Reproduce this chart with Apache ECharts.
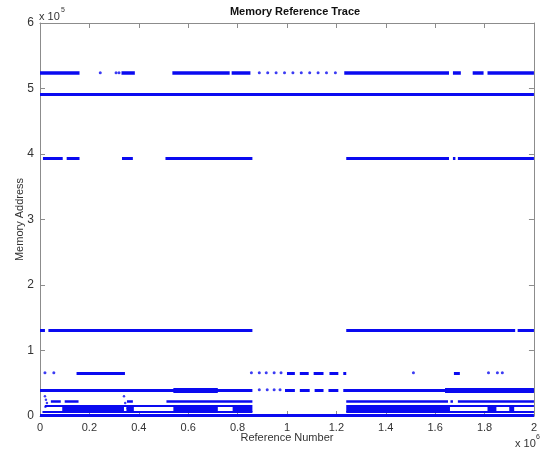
<!DOCTYPE html>
<html>
<head>
<meta charset="utf-8">
<script src="https://cdn.jsdelivr.net/npm/echarts@6/dist/echarts.min.js"></script>
<style>
html,body{margin:0;padding:0;background:#fff;}
#chart{width:540px;height:453px;}
</style>
</head>
<body>
<div id="chart"></div>
<script>
// x values in units of 1e6 references, y values in units of 1e5 addresses
const xTicks = [0, 0.2, 0.4, 0.6, 0.8, 1, 1.2, 1.4, 1.6, 1.8, 2];
const yTicks = [0, 1, 2, 3, 4, 5, 6];

// Band J (~5.24e5)
const bandJ_y = 5.24;
const bandJ_segs = [[0,0.16],[0.33,0.384],[0.536,0.768],[0.776,0.852],[1.232,1.656],[1.672,1.704],[1.752,1.796],[1.812,2.0]];
const bandJ_dots = [0.244,0.308,0.32,0.888,0.922,0.956,0.99,1.024,1.058,1.092,1.126,1.16,1.196];

// Band I (~4.91e5)
const bandI_y = 4.91;
const bandI_segs = [[0,2.0]];

// Band H (~3.93e5)
const bandH_y = 3.93;
const bandH_segs = [[0.012,0.092],[0.108,0.16],[0.332,0.376],[0.508,0.86],[1.24,1.656],[1.672,1.682],[1.692,2.0]];

// Band G (~1.31e5)
const bandG_y = 1.31;
const bandG_segs = [[0,0.02],[0.034,0.86],[1.24,1.924],[1.934,2.0]];

// Band F (~0.66e5)
const bandF_y = 0.66;
const bandF_segs = [[0.148,0.344],[1.0,1.032],[1.052,1.088],[1.108,1.148],[1.172,1.208],[1.228,1.24],[1.676,1.70]];
const bandF_dots = [0.02,0.056,0.856,0.888,0.916,0.948,0.976,1.512,1.816,1.852,1.872];

// Band E (~0.40e5)
const bandE_y = 0.40;
const bandE_segs = [[0,0.86],[0.992,1.032],[1.052,1.092],[1.112,1.148],[1.168,1.208],[1.228,2.0]];
const bandE_dense = [[0.54,0.72],[1.64,2.0]];
const bandE_dots = [0.888,0.92,0.948,0.972];

// Band D (~0.23e5)
const bandD_y = 0.23;
const bandD_segs = [[0.044,0.084],[0.1,0.156],[0.352,0.376],[0.512,0.86],[1.24,1.652],[1.662,1.672],[1.692,2.0]];

// Band C (~0.16e5)
const bandC_y = 0.16;
const bandC_segs = [[0.02,0.86],[1.24,2.0]];

// Band B (~0.10e5, dense parts) and its lower edge (~0.07e5)
const bandB_y = 0.10;
const bandB_segs = [[0.09,0.34],[0.35,0.38],[0.54,0.72],[0.78,0.86],[1.24,1.66],[1.812,1.848],[1.9,1.92]];
const bandB2_y = 0.07;
const bandB2_segs = [[0.01,0.86],[1.24,2.0]];

// Band A (~0.01e5)
const bandA_y = 0.01;
const bandA_segs = [[0,2.0]];

// scattered points (vertical trails)
const strayX = [0.02,0.024,0.028,0.022,0.34,0.345,0.355];
const strayY = [0.30,0.25,0.20,0.14,0.30,0.20,0.12];

const BLUE = '#0a0af0';
const AXIS = '#8c8c8c';
const TEXT = '#333333';
const FONT = 'Liberation Sans, Arial, sans-serif';

function segSeries(y, segs, width) {
  return {
    type: 'lines', coordinateSystem: 'cartesian2d', xAxisIndex: 0, yAxisIndex: 0,
    silent: true, animation: false,
    lineStyle: { color: BLUE, width: width, opacity: 1, cap: 'butt' },
    data: segs.map(s => ({ coords: [[s[0], y], [s[1], y]] }))
  };
}
function dotSeries(y, xs, size) {
  return {
    type: 'scatter', xAxisIndex: 0, yAxisIndex: 0, silent: true, animation: false,
    symbol: 'circle', symbolSize: size, itemStyle: { color: BLUE },
    data: xs.map(x => [x, y])
  };
}

const series = [
  segSeries(bandJ_y, bandJ_segs, 3.5), dotSeries(bandJ_y, bandJ_dots, 3),
  segSeries(bandI_y, bandI_segs, 3),
  segSeries(bandH_y, bandH_segs, 3),
  segSeries(bandG_y, bandG_segs, 3),
  segSeries(bandF_y, bandF_segs, 3), dotSeries(bandF_y, bandF_dots, 3),
  segSeries(bandE_y, bandE_segs, 3), segSeries(bandE_y, bandE_dense, 5), dotSeries(bandE_y, bandE_dots, 3),
  segSeries(bandD_y, bandD_segs, 2.5),
  segSeries(bandC_y, bandC_segs, 2),
  segSeries(bandB_y, bandB_segs, 5),
  segSeries(bandB2_y, bandB2_segs, 2),
  segSeries(bandA_y, bandA_segs, 3),
  {
    type: 'scatter', xAxisIndex: 0, yAxisIndex: 0, silent: true, animation: false,
    symbol: 'circle', symbolSize: 2.5, itemStyle: { color: BLUE },
    data: strayX.map((x, i) => [x, strayY[i]])
  }
];

const chart = echarts.init(document.getElementById('chart'), null, { renderer: 'canvas' });
const fmt = v => String(+Number(v).toFixed(1));
function axisBase() {
  return {
    type: 'value',
    axisLine: { show: true, onZero: false, lineStyle: { color: AXIS, width: 1 } },
    axisTick: { show: true, inside: true, length: 5, lineStyle: { color: AXIS } },
    splitLine: { show: false }
  };
}
chart.setOption({
  animation: false,
  backgroundColor: '#ffffff',
  title: {
    text: 'Memory Reference Trace', left: 290, top: 1, textAlign: 'center',
    textStyle: { fontFamily: FONT, fontSize: 11, fontWeight: 'bold', color: '#111' }
  },
  grid: { left: 40, right: 1, top: 23, bottom: 37, containLabel: false },
  xAxis: [
    Object.assign(axisBase(), {
      position: 'bottom', min: xTicks[0], max: xTicks[xTicks.length - 1], interval: 0.2,
      name: 'Reference Number', nameLocation: 'middle', nameGap: 16, nameMoveOverlap: false,
      nameTextStyle: { fontFamily: FONT, fontSize: 11, color: TEXT },
      axisLabel: { show: true, formatter: fmt, fontFamily: FONT, fontSize: 11, color: TEXT, margin: 6, showMaxLabel: true, showMinLabel: true, hideOverlap: false }
    }),
    Object.assign(axisBase(), {
      position: 'top', min: xTicks[0], max: xTicks[xTicks.length - 1], interval: 0.2,
      axisLabel: { show: false }
    })
  ],
  yAxis: [
    Object.assign(axisBase(), {
      position: 'left', min: yTicks[0], max: yTicks[yTicks.length - 1], interval: 1,
      name: 'Memory Address', nameLocation: 'middle', nameGap: 15, nameMoveOverlap: false,
      nameTextStyle: { fontFamily: FONT, fontSize: 11, color: TEXT },
      axisLabel: { show: true, formatter: fmt, fontFamily: FONT, fontSize: 12, color: TEXT, margin: 6 }
    }),
    Object.assign(axisBase(), {
      position: 'right', min: yTicks[0], max: yTicks[yTicks.length - 1], interval: 1,
      axisLabel: { show: false }
    })
  ],
  graphic: [
    { type: 'text', left: 39, top: 11, style: { text: 'x 10', font: '11px ' + FONT, fill: TEXT } },
    { type: 'text', left: 61, top: 7, style: { text: '5', font: '7px ' + FONT, fill: TEXT } },
    { type: 'text', left: 515, top: 438, style: { text: 'x 10', font: '11px ' + FONT, fill: TEXT } },
    { type: 'text', left: 536, top: 434, style: { text: '6', font: '7px ' + FONT, fill: TEXT } }
  ],
  series: series
});
</script>
</body>
</html>
